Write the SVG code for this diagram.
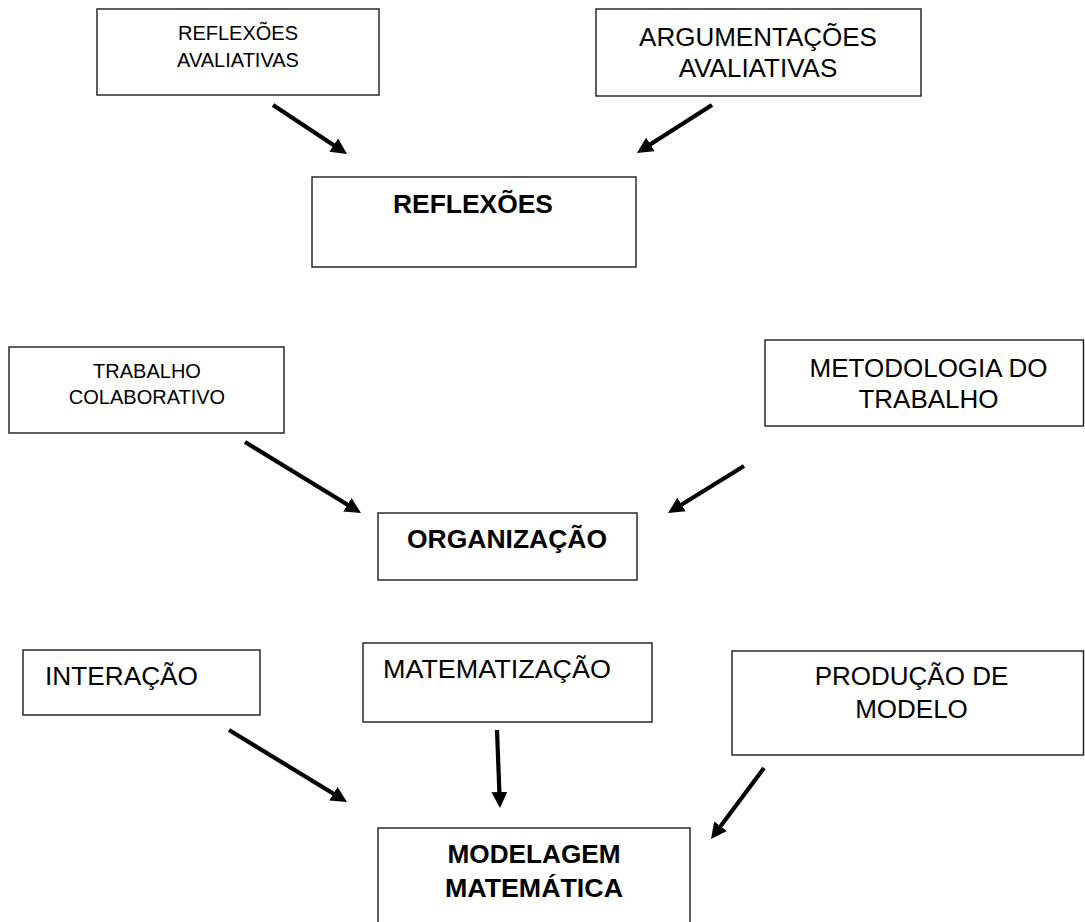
<svg xmlns="http://www.w3.org/2000/svg" width="1085" height="922" viewBox="0 0 1085 922">
  <style>
    .box { fill: #fff; stroke: #1a1a1a; stroke-width: 1.4; }
    .t { font-family: "Liberation Sans", Arial, sans-serif; fill: #000; text-anchor: middle; }
    .sm { font-size: 20px; }
    .md { font-size: 26px; }
    .bd { font-size: 25px; font-weight: bold; }
    .start { text-anchor: start; }
    .arrow { stroke: #000; stroke-width: 4.2; fill: none; marker-end: url(#head); }
  </style>
  <defs>
    <marker id="head" viewBox="0 0 16 16" refX="6" refY="8" markerWidth="16" markerHeight="16" markerUnits="userSpaceOnUse" orient="auto">
      <path d="M0,0 L16,8 L0,16 Z" fill="#000"/>
    </marker>
  </defs>
  <rect width="1085" height="922" fill="#fff"/>

  <g id="reflexoes-avaliativas">
    <rect class="box" x="97" y="9" width="282" height="86"/>
    <text class="t sm" x="238" y="40">REFLEXÕES</text>
    <text class="t sm" x="238" y="67">AVALIATIVAS</text>
  </g>

  <g id="argumentacoes-avaliativas">
    <rect class="box" x="596" y="9" width="325" height="87"/>
    <text class="t md" x="758" y="46">ARGUMENTAÇÕES</text>
    <text class="t md" x="758" y="77">AVALIATIVAS</text>
  </g>

  <g id="reflexoes">
    <rect class="box" x="312" y="177" width="324" height="90"/>
    <text class="t bd" x="473" y="213" textLength="160" lengthAdjust="spacingAndGlyphs">REFLEXÕES</text>
  </g>

  <g id="trabalho-colaborativo">
    <rect class="box" x="9" y="347" width="275" height="86"/>
    <text class="t sm" x="147" y="378">TRABALHO</text>
    <text class="t sm" x="147" y="404">COLABORATIVO</text>
  </g>

  <g id="metodologia">
    <rect class="box" x="765" y="340" width="318.5" height="86"/>
    <text class="t md" x="928.5" y="377">METODOLOGIA DO</text>
    <text class="t md" x="928.5" y="408">TRABALHO</text>
  </g>

  <g id="organizacao">
    <rect class="box" x="378" y="513" width="259" height="67"/>
    <text class="t bd" x="507" y="548" textLength="200" lengthAdjust="spacingAndGlyphs">ORGANIZAÇÃO</text>
  </g>

  <g id="interacao">
    <rect class="box" x="23" y="650" width="237" height="65"/>
    <text class="t md start" x="45" y="685" textLength="153" lengthAdjust="spacingAndGlyphs">INTERAÇÃO</text>
  </g>

  <g id="matematizacao">
    <rect class="box" x="363" y="643" width="289" height="79"/>
    <text class="t md start" x="383" y="678" textLength="228" lengthAdjust="spacingAndGlyphs">MATEMATIZAÇÃO</text>
  </g>

  <g id="producao-de-modelo">
    <rect class="box" x="732" y="651" width="351.5" height="104"/>
    <text class="t md" x="911.5" y="685">PRODUÇÃO DE</text>
    <text class="t md" x="911.5" y="718">MODELO</text>
  </g>

  <g id="modelagem-matematica">
    <rect class="box" x="378" y="828" width="312" height="110"/>
    <text class="t bd" x="534" y="863" textLength="173" lengthAdjust="spacingAndGlyphs">MODELAGEM</text>
    <text class="t bd" x="534" y="897" textLength="178" lengthAdjust="spacingAndGlyphs">MATEMÁTICA</text>
  </g>

  <g id="connectors">
    <line class="arrow" x1="273" y1="105" x2="338.7" y2="148.5"/>
    <line class="arrow" x1="712" y1="105" x2="645.4" y2="147.6"/>
    <line class="arrow" x1="245" y1="442" x2="352.5" y2="507.8"/>
    <line class="arrow" x1="744" y1="466" x2="676.5" y2="507.7"/>
    <line class="arrow" x1="229" y1="730" x2="338.5" y2="796.8"/>
    <line class="arrow" x1="497" y1="730" x2="499.6" y2="798"/>
    <line class="arrow" x1="764" y1="768" x2="717" y2="831"/>
  </g>
</svg>
